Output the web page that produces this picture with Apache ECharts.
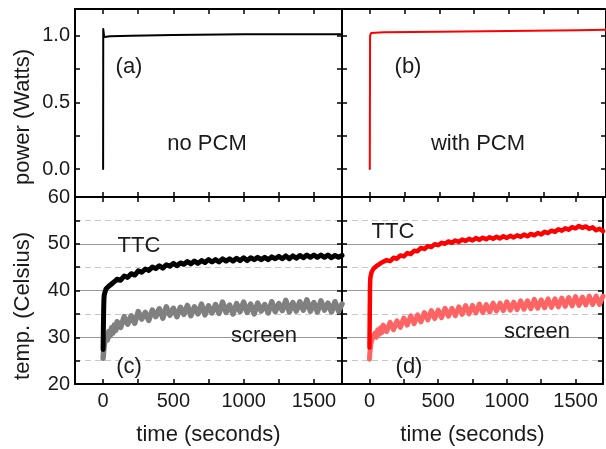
<!DOCTYPE html>
<html>
<head>
<meta charset="utf-8">
<script src="https://cdn.jsdelivr.net/npm/echarts@6/dist/echarts.min.js"></script>
<style>
html,body{margin:0;padding:0;background:#fff;}
#chart{width:606px;height:449px;}
</style>
</head>
<body>
<div id="chart"></div>
<script>
// ---- data ----
const powerTimesA = [0, 1, 8, 50, 200, 500, 1000, 1500, 1700];
const powerNoPCM  = [0, 1.05, 0.99, 0.995, 1.0, 1.005, 1.01, 1.01, 1.01];
const powerTimesB = [0, 2, 10, 100, 500, 1000, 1500, 1700];
const powerWithPCM = [0, 1.0, 1.02, 1.025, 1.03, 1.035, 1.04, 1.045];

const times = [0,2,4,6,8,10,15,20,30,40,50,60,70,80,90,
  100,125,150,175,200,225,250,275,300,325,350,375,400,425,450,475,500,525,550,575,
  600,625,650,675,700,725,750,775,800,825,850,875,900,925,950,975,1000,1025,1050,1075,
  1100,1125,1150,1175,1200,1225,1250,1275,1300,1325,1350,1375,1400,1425,1450,1475,
  1500,1525,1550,1575,1600,1625,1650,1675,1700];

const ttcNoPCM = [27.4,32.0,36.0,38.2,39.0,39.4,39.8,40.3,40.2,40.9,40.6,41.4,41.1,41.9,41.6,
  42.4,42.2,43.1,42.8,43.6,43.3,44.2,43.9,44.6,44.3,
  45.0,44.7,45.3,44.8,45.5,45.2,45.8,45.3,45.9,45.6,
  46.2,45.7,46.3,45.8,46.4,46.0,46.6,46.1,46.6,46.1,
  46.8,46.3,46.8,46.3,46.9,46.4,47.0,46.4,47.0,46.6,
  47.1,46.6,47.1,46.6,47.2,46.8,47.3,46.8,47.4,46.8,
  47.4,46.9,47.5,47.0,47.6,47.1,47.6,47.1,47.6,47.1,
  47.6,47.0,47.5,47.1,47.5];

const screenNoPCM = [25.5,26.4,26.6,27.8,27.4,28.7,28.3,30.0,29.4,31.2,30.3,32.0,30.9,32.6,31.5,
  33.3,32.1,34.4,32.8,34.6,33.0,35.5,33.9,35.3,33.6,
  35.8,34.4,36.1,34.1,36.5,34.7,36.2,34.4,36.4,34.9,
  36.8,34.6,36.5,35.0,37.1,34.8,36.7,35.2,37.0,35.1,
  37.5,35.3,36.9,35.0,37.2,35.5,37.5,35.3,37.1,35.0,
  37.3,35.6,37.0,35.2,37.6,35.5,37.2,35.7,37.9,35.4,
  37.4,35.6,37.6,35.8,38.0,35.6,37.4,35.4,37.8,35.8,
  37.3,35.4,37.6,35.6,37.1];

const ttcWithPCM = [27.8,35.0,41.0,42.5,43.0,43.3,43.9,43.8,44.7,44.6,45.2,45.0,45.6,45.4,46.0,
  45.7,46.5,46.3,47.0,46.8,47.5,47.3,48.0,47.8,48.5,
  48.4,49.1,48.9,49.5,49.3,49.9,49.7,50.2,50.0,50.5,
  50.2,50.7,50.4,50.9,50.6,51.05,50.7,51.2,50.85,51.3,
  50.95,51.4,51.05,51.5,51.15,51.6,51.25,51.7,51.35,51.8,
  51.5,51.95,51.6,52.1,51.8,52.3,52.0,52.55,52.3,52.8,
  52.55,53.1,52.8,53.3,53.0,53.55,53.3,53.8,53.4,53.7,
  53.2,53.5,52.9,53.2,52.7];

const screenWithPCM = [25.3,26.4,26.4,27.5,27.2,28.5,28.2,29.7,29.4,30.9,30.0,31.6,30.6,32.0,31.0,
  32.6,31.2,33.2,31.6,33.5,32.1,34.1,32.6,34.6,32.9,
  34.8,33.3,35.3,33.7,35.7,34.0,35.8,34.2,36.2,34.5,
  36.2,34.6,36.5,34.9,36.8,35.0,36.8,35.2,37.1,35.3,
  37.0,35.4,37.3,35.6,37.3,35.7,37.6,35.8,37.5,35.9,
  37.8,36.0,37.8,36.1,38.1,36.2,38.0,36.3,38.2,36.4,
  38.2,36.5,38.4,36.6,38.5,36.7,38.7,36.8,38.6,36.9,
  38.8,37.0,38.8,37.0,38.8];

const xTickLabels = [0, 500, 1000, 1500];
const powerTickLabels = [0, 0.5, 1.0];

// ---- helpers ----
const FONT = "'Liberation Sans', Arial, Helvetica, sans-serif";
const zip = (xs, ys) => xs.map((x, i) => [x, ys[i]]);

const grids = [
  {left: 75,  top: 9,   width: 267, height: 188},
  {left: 342, top: 9,   width: 266, height: 188},
  {left: 75,  top: 197, width: 267, height: 187},
  {left: 342, top: 197, width: 266, height: 187}
];

function xAxis(g, position, labels) {
  return {
    type: 'value', gridIndex: g, position: position,
    min: -200, max: 1700, minInterval: 250, maxInterval: 250,
    axisLine: {show: true, onZero: false, lineStyle: {color: '#000', width: 2}},
    axisTick: {show: true, inside: true, length: 5, lineStyle: {color: '#000', width: 1.5}},
    splitLine: {show: false},
    axisLabel: {
      show: labels, margin: 7, fontSize: 20, fontFamily: FONT, color: '#1a1a1a',
      formatter: v => xTickLabels.indexOf(v) >= 0 ? String(v) : ''
    },
    name: labels ? 'time (seconds)' : '',
    nameLocation: 'middle', nameGap: 40,
    nameTextStyle: {fontSize: 22, fontFamily: FONT, color: '#1a1a1a'}
  };
}

function yPower(g, position, labels) {
  return {
    type: 'value', gridIndex: g, position: position,
    min: -0.21, max: 1.2, minInterval: 0.25, maxInterval: 0.25,
    axisLine: {show: true, onZero: false, lineStyle: {color: '#000', width: 2}},
    axisTick: {show: true, inside: true, length: 5, lineStyle: {color: '#000', width: 1.5}},
    splitLine: {show: false},
    axisLabel: {
      show: labels, margin: 5, fontSize: 20, fontFamily: FONT, color: '#1a1a1a',
      formatter: v => {
        const hit = powerTickLabels.find(p => Math.abs(p - v) < 1e-6);
        return hit === undefined ? '' : hit.toFixed(1);
      }
    }
  };
}

function yTemp(g, position, labels, grid) {
  return {
    type: 'value', gridIndex: g, position: position,
    min: 20, max: 60, interval: 10,
    axisLine: {show: true, onZero: false, lineStyle: {color: '#000', width: 2}},
    axisTick: {show: true, inside: true, length: 5, lineStyle: {color: '#000', width: 1.5}},
    minorTick: {show: true, splitNumber: 2, length: 5, lineStyle: {color: '#000', width: 1.5}},
    splitLine: {show: grid, lineStyle: {color: '#9a9a9a', width: 1}},
    minorSplitLine: {show: grid, lineStyle: {color: '#c8c8c8', width: 1, type: [6, 4]}},
    axisLabel: {show: labels, margin: 5, fontSize: 20, fontFamily: FONT, color: '#1a1a1a'}
  };
}

function line(g, data, color, width, z) {
  return {
    type: 'line', xAxisIndex: 2 * g, yAxisIndex: 2 * g, data: data,
    showSymbol: false, symbol: 'none', sampling: null, animation: false,
    lineStyle: {color: color, width: width, join: 'round', cap: 'round'}, z: z || 2
  };
}

function txt(text, x, y, extra) {
  return Object.assign({
    type: 'text', x: x, y: y, z: 100,
    style: {text: text, fontSize: 22, fontFamily: FONT, fill: '#1a1a1a', align: 'center', verticalAlign: 'middle'}
  }, extra || {});
}

const option = {
  animation: false,
  backgroundColor: '#fff',
  grid: grids,
  xAxis: [
    xAxis(0, 'bottom', false), xAxis(0, 'top', false),
    xAxis(1, 'bottom', false), xAxis(1, 'top', false),
    xAxis(2, 'bottom', true),  xAxis(2, 'top', false),
    xAxis(3, 'bottom', true),  xAxis(3, 'top', false)
  ],
  yAxis: [
    yPower(0, 'left', true),  yPower(0, 'right', false),
    yPower(1, 'left', false), yPower(1, 'right', false),
    yTemp(2, 'left', true, true),  yTemp(2, 'right', false, false),
    yTemp(3, 'left', false, true), yTemp(3, 'right', false, false)
  ],
  series: [
    line(0, zip(powerTimesA, powerNoPCM), '#000000', 2),
    line(1, zip(powerTimesB, powerWithPCM), '#ff0000', 2),
    line(2, zip(times, screenNoPCM), '#808080', 5.5),
    line(2, zip(times, ttcNoPCM), '#000000', 5, 3),
    line(3, zip(times, screenWithPCM), '#ff6464', 5),
    line(3, zip(times, ttcWithPCM), '#ff0000', 4.5, 3)
  ],
  graphic: [
    txt('power (Watts)', 23, 117, {rotation: Math.PI / 2}),
    txt('temp. (Celsius)', 23, 306, {rotation: Math.PI / 2}),
    txt('(a)', 129, 67),
    txt('no PCM', 207, 144),
    txt('(b)', 408, 67),
    txt('with PCM', 478, 144),
    txt('TTC', 139, 246),
    txt('screen', 264, 336),
    txt('(c)', 129, 367),
    txt('TTC', 393, 232),
    txt('screen', 537, 332),
    txt('(d)', 409, 367)
  ]
};

const chart = echarts.init(document.getElementById('chart'), null, {renderer: 'canvas'});
chart.setOption(option);
</script>
</body>
</html>
